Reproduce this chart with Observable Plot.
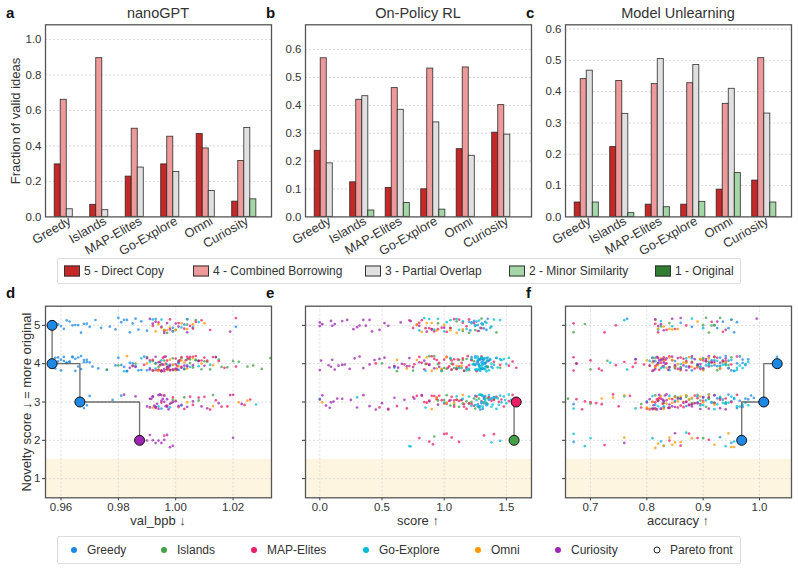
<!DOCTYPE html>
<html><head><meta charset="utf-8">
<script src="https://cdn.jsdelivr.net/npm/d3@7"></script>
<script src="https://cdn.jsdelivr.net/npm/@observablehq/plot@0.6"></script>
<style>
body{margin:0;background:#fff;}
#root{position:relative;width:798px;height:570px;font-family:"Liberation Sans",Arial,sans-serif;color:#333;overflow:hidden;background:#fff}
.abs{position:absolute;white-space:nowrap}
.title{font-size:14.5px;text-align:center;width:226px;top:4px;line-height:18px}
.letter{font-weight:bold;font-size:15px;line-height:16px;color:#111}
.ylab{font-size:13px;transform:translate(-50%,-50%) rotate(-90deg);line-height:14px}
.xlab{font-size:13px;transform:translate(-50%,-50%);line-height:14px}
.box{border:1px solid #dcdcdc;border-radius:2px;box-sizing:border-box;background:#fff}
.lt{font-size:12px;line-height:14px;transform:translateY(-50%)}
.sw{width:14px;height:9px;border:1px solid #333;transform:translateY(-50%)}
.dt{width:6px;height:6px;border-radius:50%;transform:translate(-50%,-50%)}
</style></head>
<body><div id="root"></div>
<script>
// ---------- categories ----------
const methods = ["Greedy","Islands","MAP-Elites","Go-Explore","Omni","Curiosity"];
const methodColors = ["#1e88e5","#43a047","#e91e63","#00bcd4","#ff9800","#9c27b0"];
const levels = ["5 - Direct Copy","4 - Combined Borrowing","3 - Partial Overlap","2 - Minor Similarity","1 - Original"];
const levelColors = ["#c62828","#ef9a9a","#e0e0e0","#a5d6a7","#2e7d32"];

// ---------- panel a: nanoGPT (fraction of valid ideas) ----------
const nano_direct   = [0.296,0.068,0.227,0.296,0.467,0.086];
const nano_combined = [0.660,0.895,0.497,0.452,0.386,0.315];
const nano_partial  = [0.043,0.038,0.278,0.253,0.146,0.501];
const nano_minor    = [0,0,0,0,0,0.099];
const nano_original = [0,0,0,0,0,0];
// ---------- panel b: On-Policy RL ----------
const rl_direct   = [0.237,0.124,0.104,0.099,0.243,0.302];
const rl_combined = [0.569,0.420,0.462,0.532,0.536,0.401];
const rl_partial  = [0.192,0.433,0.384,0.339,0.219,0.295];
const rl_minor    = [0,0.023,0.050,0.026,0,0];
const rl_original = [0,0,0,0,0,0];
// ---------- panel c: Model Unlearning ----------
const unl_direct   = [0.046,0.223,0.039,0.039,0.087,0.116];
const unl_combined = [0.440,0.434,0.424,0.427,0.361,0.507];
const unl_partial  = [0.467,0.329,0.504,0.485,0.409,0.330];
const unl_minor    = [0.046,0.012,0.031,0.048,0.140,0.046];
const unl_original = [0,0,0,0,0,0];

const barTicksA = [0,0.2,0.4,0.6,0.8,1.0];
const barTicksB = [0,0.1,0.2,0.3,0.4,0.5,0.6];
const barTicksC = [0,0.1,0.2,0.3,0.4,0.5,0.6];

// ---------- scatter: novelty score rows ----------
const scoreRows = [5,4,3,2];
const scoreTicks = [1,2,3,4,5];
const originalBand = [{lo:0.5, hi:1.5}];

// panel d: nanoGPT val_bpb, per method: rows for scores 5,4,3,2
const nano_Greedy = [
 [.957,.959,.960,.961,.962,.963,.964,.965,.966,.967,.968,.969,.970,.972,.974,.977,.979,.980,.981,.982,.983,.984,.985,.986,.987,.988,.990,.993,.996,.999,1.003,1.006,1.021],
 [.957,.958,.958,.959,.959,.960,.960,.961,.961,.962,.962,.963,.963,.964,.964,.965,.965,.966,.966,.967,.967,.968,.968,.969,.969,.970,.971,.973,.976,.979,.980,.981,.982,.983,.983,.984,.985,.985,.986,.987,.988,.989,.990,.991,.993,.995,.998,1.001,1.004],
 [.967,.968,.969,.970,.978,.981,.995],
 []];
const nano_Islands = [
 [.997,1.000,1.004,1.007],
 [.976,.980,.986,.990,.992,.993,.994,.995,.995,.996,.997,.998,.999,1.000,1.000,1.001,1.002,1.003,1.004,1.005,1.005,1.006,1.007,1.007,1.008,1.009,1.010,1.011,1.012,1.014,1.015,1.016,1.018,1.020,1.022,1.025,1.027,1.030,1.033],
 [.999,1.003,1.008,1.013],
 []];
const nano_MAPElites = [
 [.992,.994,.996,.998,.999,1.001,1.003,1.004,1.005,1.006,1.007,1.009,1.012,1.021],
 [.985,.989,.991,.992,.993,.994,.994,.9945,.995,.9955,.996,.996,.9965,.997,.997,.9975,.998,.999,1.000,1.000,1.0005,1.001,1.0015,1.002,1.002,1.003,1.0035,1.004,1.0045,1.005,1.006,1.007,1.008,1.009,1.010,1.011,1.013,1.015,1.017,1.021],
 [.993,.995,.997,.999,1.001,1.003,1.005,1.006,1.008,1.010,1.012,1.014,1.016,1.018,1.020,1.024,1.026],
 [.996]];
const nano_GoExplore = [
 [.992,.995,.999,1.002,1.004,1.008],
 [.982,.988,.991,.993,.995,.997,.999,1.001,1.003,1.005,1.008,1.012],
 [.994,.998,1.002,1.028],
 []];
const nano_Omni = [
 [.993,.994,.995,.996,.997,.998,1.000,1.002,1.004,1.006,1.010],
 [.983,.990,.992,.994,.995,.996,.997,.998,.999,1.000,1.001,1.002,1.003,1.004,1.006,1.009,1.013],
 [.992,.996,1.000,1.004,1.013,1.022,1.025],
 []];
const nano_Curiosity = [
 [.991,.992,.993,.995,.996,.997,.998,1.000,1.001,1.004,1.019],
 [.984,.986,.990,.991,.992,.993,.994,.9945,.995,.9955,.996,.9965,.997,.9975,.998,.999,1.000,1.0005,1.001,1.002,1.003,1.004,1.006,1.008,1.010,1.014],
 [.982,.986,.990,.991,.991,.9915,.992,.992,.9925,.993,.993,.9935,.994,.994,.9945,.995,.995,.9955,.996,.996,.9965,.997,.997,.9975,.998,.9985,.999,1.000,1.001,1.002,1.004,1.006,1.009,1.011,1.015,1.019,1.023],
 [.988,.990,.991,.992,.993,.994,.995,.996,.997,.998,.999,1.020]];
const nano_pareto_x = [0.9569,0.9569,0.9666,0.9874];
const nano_pareto_s = [5,4,3,2];
const nano_pareto_m = ["Greedy","Greedy","Greedy","Curiosity"];
const nano_xticks = [0.96,0.98,1.00,1.02];

// panel e: On-Policy RL score
const rl_Greedy = [
 [1.20,1.21,1.22,1.24,1.25,1.26,1.27,1.28,1.29,1.30,1.31,1.32,1.33,1.34,1.35,1.38],
 [1.10,1.18,1.22,1.24,1.25,1.25,1.26,1.26,1.27,1.27,1.28,1.28,1.28,1.29,1.29,1.30,1.30,1.30,1.31,1.31,1.31,1.32,1.32,1.33,1.33,1.34,1.34,1.35,1.36,1.37,1.38,1.42],
 [1.25,1.27,1.28,1.29,1.30,1.31,1.32,1.33,1.34,1.36,1.38,1.40],
 []];
const rl_Islands = [
 [0.95,1.05,1.10,1.15,1.20,1.25,1.30,1.42],
 [0.50,0.62,0.75,0.85,0.88,0.92,0.95,0.98,1.00,1.02,1.05,1.06,1.08,1.10,1.12,1.14,1.15,1.16,1.18,1.20,1.22,1.24,1.30,1.35,1.45],
 [0.95,1.00,1.02,1.05,1.08,1.10,1.12,1.14,1.15,1.18,1.20,1.22,1.24,1.25,1.28,1.30,1.32,1.35,1.40],
 [0.92]];
const rl_MAPElites = [
 [0.72,0.75,0.78,0.80,0.82,0.85,0.88,0.90,0.92,0.95,0.98,1.02,1.05,1.08,1.12,1.15,1.18,1.20,1.24,1.27,1.30],
 [0.45,0.60,0.68,0.72,0.76,0.80,0.82,0.84,0.86,0.88,0.90,0.92,0.94,0.96,0.98,1.00,1.02,1.03,1.04,1.06,1.07,1.08,1.10,1.11,1.12,1.14,1.15,1.16,1.18,1.19,1.20,1.22,1.26,1.30,1.35,1.40,1.45,1.52,1.55,1.58],
 [0.48,0.55,0.62,0.70,0.75,0.78,0.82,0.84,0.86,0.88,0.90,0.92,0.94,0.94,0.96,0.98,1.00,1.02,1.04,1.06,1.08,1.08,1.10,1.12,1.14,1.16,1.16,1.18,1.20,1.22,1.24,1.26,1.28,1.30,1.32,1.34,1.36,1.38,1.40,1.42,1.44,1.46,1.48,1.52,1.55,1.58],
 [0.80,0.88,0.91,1.00,1.02,1.06,1.12,1.32,1.40]];
const rl_GoExplore = [
 [0.80,0.84,0.88,0.92,0.95,1.00,1.02,1.05,1.10,1.12,1.15,1.18,1.22,1.25,1.28,1.31,1.34,1.37,1.40,1.45],
 [0.60,0.85,0.98,1.05,1.12,1.18,1.20,1.22,1.23,1.24,1.25,1.25,1.26,1.26,1.27,1.27,1.27,1.28,1.28,1.28,1.29,1.29,1.29,1.30,1.30,1.30,1.31,1.31,1.31,1.32,1.32,1.32,1.33,1.33,1.34,1.34,1.35,1.35,1.36,1.37,1.38,1.39,1.40,1.42,1.43,1.45,1.46,1.48,1.50,1.52],
 [0.00,0.30,0.85,1.00,1.10,1.15,1.20,1.22,1.25,1.26,1.27,1.28,1.28,1.29,1.29,1.30,1.30,1.31,1.31,1.32,1.32,1.33,1.33,1.34,1.35,1.36,1.37,1.38,1.39,1.40,1.41,1.42,1.43,1.44,1.45,1.46,1.48,1.49,1.50,1.52,1.54],
 [0.72,0.73,1.38,1.45]];
const rl_Omni = [
 [0.78,0.82,0.86,0.90,0.94,1.00,1.05,1.10,1.15],
 [0.62,0.70,0.78,0.86,0.90,0.94,0.98,1.02,1.06,1.10,1.14],
 [0.02,0.90,0.94,1.02,1.08,1.15],
 []];
const rl_Curiosity = [
 [0.00,0.00,0.02,0.09,0.10,0.12,0.18,0.22,0.27,0.30,0.32,0.35,0.37,0.40,0.42,0.48,0.52,0.55,0.65,0.73,0.80,0.86,0.90,1.00],
 [0.00,0.01,0.07,0.09,0.10,0.12,0.15,0.18,0.20,0.24,0.28,0.32,0.35,0.40,0.44,0.48,0.52,0.56,0.60,0.63,0.66,0.70,0.72,0.75,0.80,0.84,0.88,0.92,0.96,1.06],
 [0.00,0.02,0.05,0.08,0.09,0.11,0.14,0.18,0.25,0.30,0.35,0.40,0.45,0.50,0.55,0.60,0.68,0.76,0.82,0.88,0.95,1.05],
 []];
const rl_pareto_x = [1.579,1.562];
const rl_pareto_s = [3,2];
const rl_pareto_m = ["MAP-Elites","Islands"];
const rl_xticks = [0.0,0.5,1.0,1.5];

// panel f: Model Unlearning accuracy
const unl_Greedy = [
 [.765,.86,.88,.92,.925,.935,.945,.955,.96],
 [.78,.83,.85,.86,.87,.88,.89,.895,.90,.905,.91,.915,.92,.925,.93,.935,.94,.94,.945,.95,.955,.96,.965,.97,.97,.975,.98,1.031],
 [.67,.81,.83,.85,.87,.88,.89,.90,.91,.915,.92,.925,.93,.935,.94,.945,.95,.955,.96,.965,.97,.975,.98,.985,.99],
 [.67,.93,.95]];
const unl_Islands = [
 [.67,.69,.825,.84,.90,.905,.91,.915,.92,.93],
 [.70,.73,.815,.82,.83,.84,.85,.86,.87,.88,.89,.895,.90,.91,.92,.925,.93,.935,.94,.945,.95],
 [.66,.70,.79,.815,.82,.83,.84,.85,.855,.86,.87,.875,.88,.89,.895,.905,.91,.92,.93,.94],
 [.90]];
const unl_MAPElites = [
 [.67,.725,.745,.815,.82,.835,.85,.87,.915,.935,.95],
 [.67,.67,.675,.70,.715,.72,.745,.76,.775,.78,.795,.81,.812,.815,.818,.82,.822,.825,.828,.83,.833,.835,.84,.845,.85,.855,.86,.865,.87,.875,.88,.885,.89,.895,.90,.905,.91,.915,.92,.925,.93,.935,.94,.945,.95,.96],
 [.675,.685,.69,.70,.71,.72,.74,.75,.77,.79,.80,.805,.81,.812,.815,.818,.82,.822,.825,.828,.83,.835,.84,.845,.85,.855,.86,.865,.87,.875,.88,.885,.89,.895,.90,.91,.92,.93,.94,.95,.96],
 [.725,.84,.86,.875,.89,.91]];
const unl_GoExplore = [
 [.76,.82,.825,.845,.88,.90,.95],
 [.735,.765,.805,.81,.815,.82,.825,.83,.84,.85,.86,.87,.88,.89,.895,.90,.905,.91,.915,.92,.925,.93,.935,.94,.945,.95,.955,.96,.96,.965,.97,.975,.98],
 [.67,.76,.78,.80,.81,.815,.82,.825,.83,.84,.85,.86,.87,.88,.89,.895,.90,.905,.91,.915,.92,.925,.93,.935,.94,.945,.95,.955,.96,.965,.97,.975,.98],
 [.67,.69,.70,.81,.825,.83,.87,.94,.955]];
const unl_Omni = [
 [.815,.82,.83,.84,.845,.855,.89],
 [.80,.805,.81,.815,.82,.825,.83,.835,.84,.845,.85,.855,.86,.865,.87,.875,.88,.89,.895,.90,.91,.92,.93,.94],
 [.72,.74,.76,.80,.805,.81,.815,.82,.825,.83,.835,.84,.845,.85,.855,.86,.865,.87,.875,.88,.885,.895,.90,.91,.92],
 [.76,.815,.82,.83,.84,.845,.85,.86,.88,.92,.945,.95,.955]];
const unl_Curiosity = [
 [.815,.82,.825,.83,.845,.86,.925,.94,.995],
 [.675,.78,.805,.81,.812,.815,.818,.82,.822,.825,.828,.83,.833,.835,.838,.84,.845,.85,.855,.86,.865,.87,.875,.88,.885,.89,.895,.90,.905,.91,.915,.92,.93,.94],
 [.80,.805,.81,.812,.815,.818,.82,.822,.825,.828,.83,.832,.835,.838,.84,.845,.85,.855,.86,.865,.87,.875,.88,.885,.89,.895,.90,.91,.92,.93,.94],
 [.76,.85]];
const unl_pareto_x = [1.0314,1.0076,0.9684];
const unl_pareto_s = [4,3,2];
const unl_pareto_m = ["Greedy","Greedy","Greedy"];
const unl_xticks = [0.7,0.8,0.9,1.0];

// ---------- layout ----------
const root = document.getElementById("root");
const FONT = "'Liberation Sans', Arial, sans-serif";
const PW = 226;               // frame width
const ML = 45, MR = 4;
const panelLefts = [45, 305, 565];

function el(cls, css, text) {
  const d = document.createElement("div");
  d.className = "abs " + cls;
  Object.assign(d.style, css);
  if (text != null) d.textContent = text;
  root.appendChild(d);
  return d;
}

function barPanel(series, ymax, yticks, frameLeft) {
  const rows = [];
  series.forEach((vals, k) => vals.forEach((v, g) => rows.push({g, k, lev: levels[k], v})));
  const w = 0.17;
  const fig = Plot.plot({
    width: ML + PW + MR, height: 24 + 192.4 + 50,
    marginLeft: ML, marginRight: MR, marginTop: 24.3, marginBottom: 50,
    style: {fontFamily: FONT, fontSize: "11.5px", color: "#333", background: "none", overflow: "visible"},
    x: {domain: [-0.684, 5.682], ticks: methods.map((m, i) => i), tickFormat: i => methods[i], tickRotate: -30, tickSize: 0, tickPadding: 3, label: null},
    y: {domain: [0, ymax], ticks: yticks, tickFormat: d3.format(".1f"), tickSize: 0, tickPadding: 4, label: null},
    color: {domain: levels, range: levelColors},
    marks: [
      Plot.ruleY(yticks.slice(1), {stroke: "#cfcfcf", strokeDasharray: "2,2", strokeWidth: 0.8}),
      Plot.rect(rows, {x1: d => d.g + (d.k - 2) * w - w / 2, x2: d => d.g + (d.k - 2) * w + w / 2, y1: () => 0, y2: "v", fill: "lev", stroke: "#222", strokeWidth: 0.9, strokeOpacity: 0.85}),
      Plot.frame({stroke: "#555", strokeWidth: 1.3})
    ]
  });
  fig.querySelectorAll('g[aria-label^="x-axis"]').forEach(g => { g.style.fontSize = "12.8px"; });
  Object.assign(fig.style, {position: "absolute", left: (frameLeft - ML) + "px", top: "0px"});
  root.appendChild(fig);
}

// deterministic vertical jitter (display offset only, like a strip plot)
const jit = k => { const s = Math.sin(k * 12.9898 + 78.233) * 43758.5453; return (s - Math.floor(s) - 0.5) * 0.4; };

function scatterPanel(series, xdom, xticks, xfmt, px, ps, pm, frameLeft, showY, seed) {
  const pts = [];
  series.forEach((rows, mi) => rows.forEach((xs, ri) => xs.forEach((x, i) =>
    pts.push({m: methods[mi], x, s: scoreRows[ri], j: jit(seed + i + ri * 101 + mi * 1009)}))));
  const front = px.map((x, i) => ({x, s: ps[i], m: pm[i]}));
  const fig = Plot.plot({
    width: ML + PW + MR, height: 15.7 + 191.6 + 40,
    marginLeft: ML, marginRight: MR, marginTop: 15.7, marginBottom: 40,
    style: {fontFamily: FONT, fontSize: "11.5px", color: "#333", background: "none", overflow: "visible"},
    x: {domain: xdom, ticks: xticks, tickFormat: xfmt, tickSize: 3, tickPadding: 2, label: null},
    y: {domain: [0.5, 5.5], ticks: scoreTicks, tickFormat: showY ? d => d : () => "", tickSize: 3, tickPadding: 2, label: null},
    color: {domain: methods, range: methodColors},
    marks: [
      Plot.rect(originalBand, {x1: () => xdom[0], x2: () => xdom[1], y1: "lo", y2: "hi", fill: "#fdf5e0"}),
      Plot.ruleX(xticks, {stroke: "#d4d4d4", strokeDasharray: "2,2", strokeWidth: 0.8}),
      Plot.ruleY(scoreTicks, {stroke: "#d4d4d4", strokeDasharray: "2,2", strokeWidth: 0.8}),
      Plot.dot(pts, {x: "x", y: d => d.s + d.j, fill: "m", r: 1.35, fillOpacity: 0.75}),
      Plot.line(front, {x: "x", y: "s", curve: "step-after", stroke: "#555", strokeWidth: 1.3, strokeOpacity: 0.85}),
      Plot.dot(front, {x: "x", y: "s", fill: "m", r: 5, stroke: "#111", strokeWidth: 1}),
      Plot.frame({stroke: "#555", strokeWidth: 1.3})
    ]
  });
  Object.assign(fig.style, {position: "absolute", left: (frameLeft - ML) + "px", top: "290px"});
  root.appendChild(fig);
}

barPanel([nano_direct, nano_combined, nano_partial, nano_minor, nano_original], 1.083, barTicksA, panelLefts[0]);
barPanel([rl_direct, rl_combined, rl_partial, rl_minor, rl_original], 0.689, barTicksB, panelLefts[1]);
barPanel([unl_direct, unl_combined, unl_partial, unl_minor, unl_original], 0.6135, barTicksC, panelLefts[2]);

scatterPanel([nano_Greedy, nano_Islands, nano_MAPElites, nano_GoExplore, nano_Omni, nano_Curiosity],
  [0.9546, 1.0334], nano_xticks, d3.format(".2f"), nano_pareto_x, nano_pareto_s, nano_pareto_m, panelLefts[0], true, 1);
scatterPanel([rl_Greedy, rl_Islands, rl_MAPElites, rl_GoExplore, rl_Omni, rl_Curiosity],
  [-0.115, 1.702], rl_xticks, d3.format(".1f"), rl_pareto_x, rl_pareto_s, rl_pareto_m, panelLefts[1], false, 5000);
scatterPanel([unl_Greedy, unl_Islands, unl_MAPElites, unl_GoExplore, unl_Omni, unl_Curiosity],
  [0.6556, 1.0568], unl_xticks, d3.format(".1f"), unl_pareto_x, unl_pareto_s, unl_pareto_m, panelLefts[2], false, 9000);

// titles & letters
const titles = ["nanoGPT", "On-Policy RL", "Model Unlearning"];
const xlabels = ["val_bpb ↓", "score ↑", "accuracy ↑"];
titles.forEach((t, i) => el("title", {left: panelLefts[i] + "px"}, t));
xlabels.forEach((t, i) => el("xlab", {left: (panelLefts[i] + PW / 2) + "px", top: "521px"}, t));
["a","b","c"].forEach((t, i) => el("letter", {left: [6, 266, 526][i] + "px", top: "5px"}, t));
["d","e","f"].forEach((t, i) => el("letter", {left: [6, 266, 526][i] + "px", top: "285px"}, t));
el("ylab", {left: "16px", top: "121px"}, "Fraction of valid ideas");
el("ylab", {left: "27px", top: "402px"}, "Novelty score ↓ = more original");

// legend 1 (levels)
el("box", {left: "57px", top: "258px", width: "684px", height: "26px"});
const swX = [64, 193, 365, 509, 655];
levels.forEach((l, i) => {
  el("sw", {left: swX[i] + "px", top: "271px", background: levelColors[i]});
  el("lt", {left: (swX[i] + 20) + "px", top: "271px"}, l);
});
// legend 2 (methods)
el("box", {left: "57px", top: "536px", width: "684px", height: "28px"});
const dotX = [74, 164, 254, 366, 478, 558];
methods.forEach((m, i) => {
  el("dt", {left: dotX[i] + "px", top: "550px", background: methodColors[i]});
  el("lt", {left: (dotX[i] + 13) + "px", top: "550px"}, m);
});
el("dt", {left: "657px", top: "550px", background: "#fff", border: "1px solid #222", width: "5px", height: "5px"});
el("lt", {left: "670px", top: "550px"}, "Pareto front");
</script>
</body></html>
